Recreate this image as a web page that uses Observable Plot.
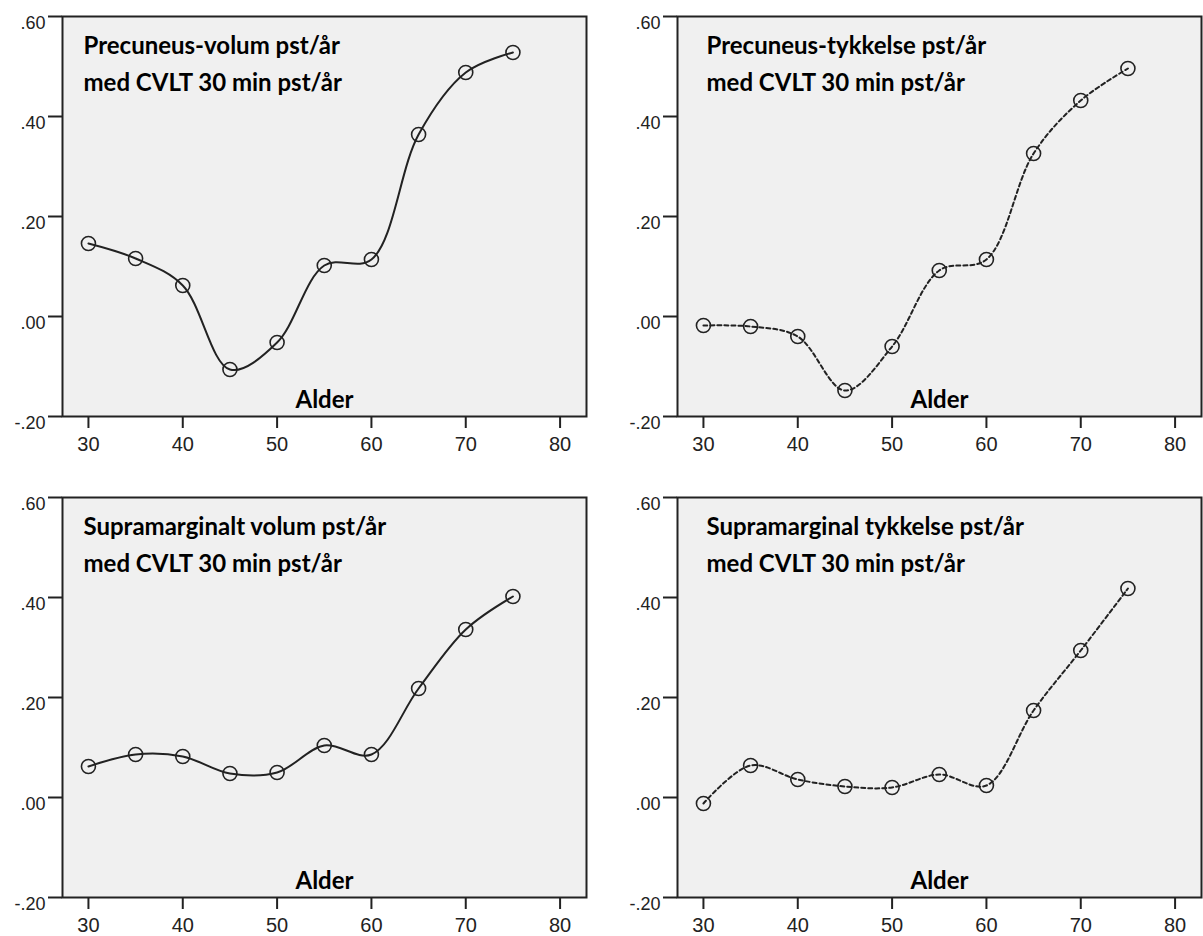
<!DOCTYPE html>
<html>
<head>
<meta charset="utf-8">
<script src="https://cdn.jsdelivr.net/npm/d3@7"></script>
<script src="https://cdn.jsdelivr.net/npm/@observablehq/plot@0.6"></script>
<style>
  body { margin: 0; background: #fff; }
  #wrap { position: relative; width: 1203px; height: 936px; overflow: hidden; }
  .panel { position: absolute; }
</style>
</head>
<body>
<div id="wrap"></div>
<script>
// ---- data ----
const ages = [30, 35, 40, 45, 50, 55, 60, 65, 70, 75];
const precuneusVolum    = [0.146, 0.116, 0.062, -0.106, -0.052, 0.102, 0.114, 0.364, 0.488, 0.528];
const precuneusTykkelse = [-0.018, -0.020, -0.040, -0.148, -0.060, 0.092, 0.114, 0.326, 0.432, 0.496];
const supraVolum        = [0.062, 0.086, 0.082, 0.048, 0.050, 0.104, 0.086, 0.218, 0.336, 0.402];
const supraTykkelse     = [-0.012, 0.064, 0.036, 0.022, 0.020, 0.046, 0.024, 0.174, 0.294, 0.418];

const titles = [
  "Precuneus-volum pst/år\nmed CVLT 30 min pst/år",
  "Precuneus-tykkelse pst/år\nmed CVLT 30 min pst/år",
  "Supramarginalt volum pst/år\nmed CVLT 30 min pst/år",
  "Supramarginal tykkelse pst/år\nmed CVLT 30 min pst/år"
];
const xAxisLabel = "Alder";
const xTicks = [30, 40, 50, 60, 70, 80];
const yTicks = [-0.2, 0, 0.2, 0.4, 0.6];

// ---- drawing ----
const fmtY = d => (d < 0 ? "-" : "") + Math.abs(d).toFixed(2).replace(/^0/, "");
const ink = "#222";
const tickFont = "'Liberation Sans', Arial, sans-serif";
const boldFont = "Lato, 'Open Sans', sans-serif";

function panel(values, title, dashed, left, top, width, height, marginRight, titleDx) {
  const data = ages.map((a, i) => ({age: a, v: values[i]}));
  const chart = Plot.plot({
    width, height,
    marginLeft: 62, marginRight, marginTop: 16, marginBottom: height - 416,
    x: {domain: [27.25, 82.8]},
    y: {domain: [-0.2, 0.6]},
    style: {fontFamily: tickFont, color: ink, background: "transparent"},
    marks: [
      Plot.frame({fill: "#f0f0f0"}),
      Plot.line(data, {
        x: "age", y: "v", curve: "catmull-rom",
        stroke: ink, strokeWidth: 2,
        strokeDasharray: dashed ? "4,3" : null
      }),
      Plot.dot(data, {x: "age", y: "v", r: 7, stroke: ink, strokeWidth: 1.6, fill: "none"}),
      Plot.frame({stroke: ink, strokeWidth: 2}),
      Plot.axisX({ticks: xTicks, tickSize: 12, tickFormat: () => "", label: null, stroke: ink, strokeWidth: 2}),
      Plot.axisY({ticks: yTicks, tickSize: 14, tickFormat: () => "", label: null, stroke: ink, strokeWidth: 2}),
      Plot.text(xTicks, {
        x: d => d, text: d => String(d), frameAnchor: "bottom", lineAnchor: "top",
        dy: 20, fontSize: 20, fontFamily: tickFont, fill: ink
      }),
      Plot.text(yTicks, {
        y: d => d, text: fmtY, frameAnchor: "left", textAnchor: "end", lineAnchor: "middle",
        dx: -17, dy: 6.4, fontSize: 18, fontFamily: tickFont, fill: ink
      }),
      Plot.text([title], {
        frameAnchor: "top-left", lineAnchor: "top", textAnchor: "start",
        dx: titleDx, dy: 11, lineHeight: 1.54,
        fontFamily: boldFont, fontWeight: "bold", fontSize: 24, fill: "#000"
      }),
      Plot.text([xAxisLabel], {
        frameAnchor: "bottom", lineAnchor: "middle", dy: -16,
        fontFamily: boldFont, fontWeight: "bold", fontSize: 24, fill: "#000"
      })
    ]
  });
  chart.classList.add("panel");
  chart.style.left = left + "px";
  chart.style.top = top + "px";
  document.getElementById("wrap").appendChild(chart);
}

panel(precuneusVolum,    titles[0], false, 0,   0,   600, 465, 14, 21);
panel(precuneusTykkelse, titles[1], true,  615, 0,   588, 465, 2,  29);
panel(supraVolum,        titles[2], false, 0,   481, 600, 455, 14, 21);
panel(supraTykkelse,     titles[3], true,  615, 481, 588, 455, 2,  29);
</script>
</body>
</html>
